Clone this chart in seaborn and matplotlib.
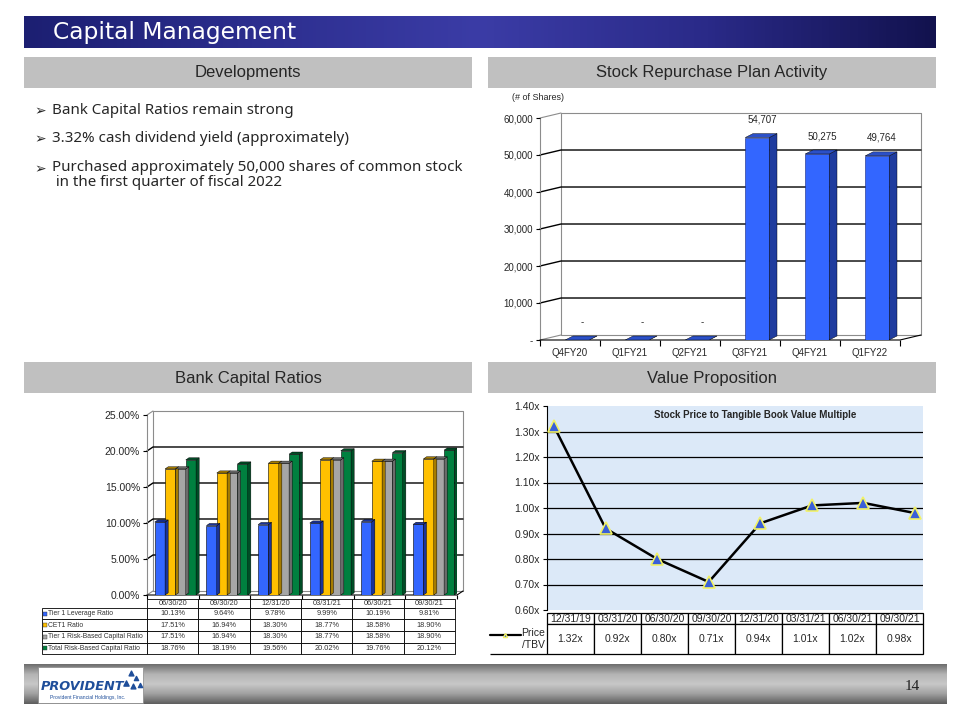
import numpy as np
import pandas as pd
import matplotlib
matplotlib.use("Agg")
import matplotlib.pyplot as plt
from matplotlib.patches import Polygon, Rectangle
from matplotlib.colors import LinearSegmentedColormap
import seaborn as sns

# ---- data ----
quarters = ["Q4FY20", "Q1FY21", "Q2FY21", "Q3FY21", "Q4FY21", "Q1FY22"]
shares = [0, 0, 0, 54707, 50275, 49764]

cap_dates = ["06/30/20", "09/30/20", "12/31/20", "03/31/21", "06/30/21", "09/30/21"]
ratio_names = ["Tier 1 Leverage Ratio", "CET1 Ratio",
               "Tier 1 Risk-Based Capital Ratio", "Total Risk-Based Capital Ratio"]
tier1_leverage = [10.13, 9.64, 9.78, 9.99, 10.19, 9.81]
cet1 = [17.51, 16.94, 18.30, 18.77, 18.58, 18.90]
tier1_risk = [17.51, 16.94, 18.30, 18.77, 18.58, 18.90]
total_risk = [18.76, 18.19, 19.56, 20.02, 19.76, 20.12]
cap_colors = ["#3366FF", "#FFC000", "#A6A6A6", "#00803F"]
cap_sides = ["#1A3399", "#A67C00", "#6B6B6B", "#004D26"]

tbv_dates = ["12/31/19", "03/31/20", "06/30/20", "09/30/20",
             "12/31/20", "03/31/21", "06/30/21", "09/30/21"]
price_tbv = [1.32, 0.92, 0.80, 0.71, 0.94, 1.01, 1.02, 0.98]

bullets = ["Bank Capital Ratios remain strong",
           "3.32% cash dividend yield (approximately)",
           "Purchased approximately 50,000 shares of common stock\n in the first quarter of fiscal 2022"]

sns.set_style("white")
plt.rcParams["font.family"] = ["Liberation Sans", "DejaVu Sans"]

W, H = 960, 720
fig = plt.figure(figsize=(9.6, 7.2), dpi=100)


def box(x0, y0, x1, y1):
    # pixel rect (top-left origin) -> figure fraction
    return [x0 / W, 1 - y1 / H, (x1 - x0) / W, (y1 - y0) / H]


def add_depth(ax, bars, d, dz, sides, tops):
    for p, sc, tc in zip(bars, sides, tops):
        x0, w, h = p.get_x(), p.get_width(), p.get_height()
        x1 = x0 + w
        ax.add_patch(Polygon([(x1, 0), (x1 + d, dz), (x1 + d, h + dz), (x1, h)],
                             closed=True, fc=sc, ec="black", lw=0.3, zorder=3))
        ax.add_patch(Polygon([(x0, h), (x0 + d, h + dz), (x1 + d, h + dz), (x1, h)],
                             closed=True, fc=tc, ec="black", lw=0.3, zorder=3))


def walls(ax, n, top, ticks, dx, dz):
    l, r = -0.5, n - 0.5
    kw = dict(clip_on=False, zorder=0.5)
    ax.plot([l + dx, r + dx, r + dx, l + dx, l + dx], [dz, dz, top + dz, top + dz, dz],
            color="#8C8C8C", lw=0.8, **kw)
    for t in ticks[1:-1]:
        ax.plot([l, l + dx, r + dx], [t, t + dz, t + dz], color="black", lw=1.0, **kw)
    ax.plot([l, l + dx], [top, top + dz], color="#8C8C8C", lw=0.8, **kw)
    ax.plot([l, l + dx], [0, dz], color="#8C8C8C", lw=0.8, **kw)
    ax.plot([l, l], [0, top], color="#8C8C8C", lw=0.8, **kw)
    ax.plot([l, r, r + dx], [0, 0, dz], color="black", lw=0.8, **kw)


# ---- slide background ----
bg = fig.add_axes([0, 0, 1, 1])
title_cmap = LinearSegmentedColormap.from_list("t", ["#1C1F72", "#2C2E8E", "#3B3CA6", "#2A2A88", "#12124E"])
bg.imshow(np.linspace(0, 1, 256)[None, :], cmap=title_cmap, aspect="auto", extent=[24, 936, 48, 16])
foot_cmap = LinearSegmentedColormap.from_list("f", ["#6E6E6E", "#B4B4B4", "#C8C8C8", "#A0A0A0", "#5E5E5E"])
bg.imshow(np.linspace(0, 1, 64)[:, None], cmap=foot_cmap, aspect="auto", extent=[24, 947, 704, 664])
bg.set_xlim(0, W)
bg.set_ylim(H, 0)
bg.axis("off")

bg.text(53, 33, "Capital Management", color="white", fontsize=16.8, va="center",
        family=["DejaVu Sans"])
for x0, y0, label in [(24, 57, "Developments"), (488, 57, "Stock Repurchase Plan Activity"),
                      (24, 362, "Bank Capital Ratios"), (488, 362, "Value Proposition")]:
    bg.add_patch(Rectangle((x0, y0), 448, 31, fc="#C0C0C0", ec="none"))
    bg.text(x0 + 224, y0 + 16, label, fontsize=12, ha="center", va="center")

for y, txt in zip([111, 139, 169], bullets):
    bg.text(34, y, "\u27a2", fontsize=10, va="center", family=["DejaVu Sans"])
    two = "\n" in txt
    bg.text(52, y - 9 if two else y, txt, fontsize=10.9, va="top" if two else "center",
            family=["Noto Sans", "DejaVu Sans"], linespacing=1.0)

# footer logo and page number
bg.add_patch(Rectangle((38, 667), 105, 36, fc="white", ec="#888888", lw=0.5))
bg.text(41, 686, "PROVIDENT", fontsize=9.3, fontweight="bold", style="italic",
        color="#1F4E9A", va="center", family=["DejaVu Sans"])
bg.text(88, 698, "Provident Financial Holdings, Inc.", fontsize=3.6, color="#1F4E9A",
        ha="center", va="center")
for tx, ty, s in [(131, 673, 12), (136, 678, 9), (126, 683, 14), (133, 686, 12), (140, 685, 9)]:
    bg.scatter(tx, ty, marker="^", s=s, color="#1F4E9A", zorder=3)
bg.text(912, 687, "14", fontsize=11, va="center", ha="center", color="#222222",
        family=["Liberation Serif", "DejaVu Serif"])

# ---- stock repurchase bars ----
ax1 = fig.add_axes(box(540, 118, 900, 340))
sns.barplot(x=quarters, y=shares, color="#3366FF", saturation=1, width=0.4,
            edgecolor="#13247A", linewidth=0.4, ax=ax1, zorder=2)
ax1.set_xlim(-0.5, 5.5)
ax1.set_ylim(0, 60000)
for s in ax1.spines.values():
    s.set_visible(False)
bars1 = list(ax1.patches)
for p in bars1:
    p.set_x(p.get_x() + 0.12)
walls(ax1, 6, 60000, list(range(0, 60001, 10000)), 0.35, 1350)
add_depth(ax1, bars1, 0.13, 1080, ["#1F3C9E"] * 6, ["#2B50C8"] * 6)
for i, v in enumerate(shares):
    ax1.text(i + 0.2, v + 3500, f"{v:,}" if v else "-", ha="center", va="bottom", fontsize=7)
ax1.set_yticks(range(0, 60001, 10000))
ax1.set_yticklabels(["-"] + [f"{t:,}" for t in range(10000, 60001, 10000)])
ax1.set_xticks(np.arange(-0.5, 6), minor=True)
ax1.tick_params(axis="y", left=True, length=3, width=0.8, color="black", labelsize=7, pad=2)
ax1.tick_params(axis="x", which="major", length=0, labelsize=7, pad=6)
ax1.tick_params(axis="x", which="minor", bottom=True, length=4, width=0.8, color="black")
ax1.set_xlabel("")
ax1.set_ylabel("")
bg.text(512, 98, "(# of Shares)", fontsize=6.5, va="center")

# ---- bank capital ratios ----
ratio_series = [tier1_leverage, cet1, tier1_risk, total_risk]
df_cap = pd.DataFrame({"date": cap_dates * 4,
                       "ratio": np.repeat(ratio_names, len(cap_dates)),
                       "value": tier1_leverage + cet1 + tier1_risk + total_risk})
ax2 = fig.add_axes(box(147, 415, 457, 595))
sns.barplot(data=df_cap, x="date", y="value", hue="ratio", hue_order=ratio_names,
            palette=cap_colors, saturation=1, width=0.8, edgecolor="black", linewidth=0.4,
            legend=False, ax=ax2, zorder=2)
ax2.set_xlim(-0.5, 5.5)
ax2.set_ylim(0, 25)
for s in ax2.spines.values():
    s.set_visible(False)
bars2 = list(ax2.patches)
for p in bars2:
    p.set_x(p.get_x() + 0.05)
walls(ax2, 6, 25, [0, 5, 10, 15, 20, 25], 0.116, 0.556)
add_depth(ax2, bars2, 0.06, 0.3, np.repeat(cap_sides, 6), np.repeat(cap_sides, 6))
ax2.set_yticks([0, 5, 10, 15, 20, 25])
ax2.set_yticklabels([f"{t:.2f}%" for t in [0, 5, 10, 15, 20, 25]])
ax2.set_xticks([])
ax2.set_xticks(np.arange(-0.5, 6), minor=True)
ax2.tick_params(axis="y", left=True, length=3, width=0.8, color="black", labelsize=7.5, pad=2)
ax2.tick_params(axis="x", which="minor", bottom=True, length=3, width=0.8, color="black")
ax2.set_xlabel("")
ax2.set_ylabel("")

cap_cells = [[""] + cap_dates] + [[n] + [f"{v:.2f}%" for v in vals]
                                  for n, vals in zip(ratio_names, ratio_series)]
tab2 = ax2.table(cellText=cap_cells, colWidths=[105] + [51.3] * 6, cellLoc="center",
                 bbox=[-0.3387, -0.328, 1.332, 0.306])
tab2.auto_set_font_size(False)
tab2.set_fontsize(5.3)
for (r, c), cell in tab2.get_celld().items():
    cell.set_linewidth(0.6)
    cell.set_height(9 if r == 0 else 11.5)
    cell.get_text().set_color("#333333")
    if r == 0 and c == 0:
        cell.visible_edges = ""
    if c == 0 and r > 0:
        cell.get_text().set_ha("left")
        cell.get_text().set_fontsize(4.9)
        cell.PAD = 0.06
row_mid = [613.75, 625.25, 636.75, 648.25]
for yc, col in zip(row_mid, cap_colors):
    ax2.scatter((45 - 147) / 310, (595 - yc) / 180, marker="s", s=7, color=col,
                edgecolor="#333333", linewidth=0.3, transform=ax2.transAxes, clip_on=False)

# ---- value proposition line ----
ax3 = fig.add_axes(box(547, 406, 923, 610))
ax3.set_facecolor("#DCE9F8")
sns.lineplot(x=np.arange(len(price_tbv)), y=price_tbv, color="black", lw=1.8, marker="^",
             markersize=9, markerfacecolor="#3A5FD8", markeredgecolor="#F2F266",
             markeredgewidth=1.2, ax=ax3, zorder=3)
ax3.set_xlim(-0.136, 7.155)
ax3.set_ylim(0.6, 1.4)
yt = [0.6, 0.7, 0.8, 0.9, 1.0, 1.1, 1.2, 1.3, 1.4]
ax3.set_yticks(yt)
ax3.set_yticklabels([f"{t:.2f}x" for t in yt])
for t in yt[1:-1]:
    ax3.axhline(t, color="black", lw=0.9, zorder=1)
ax3.set_xticks([])
for k in ["top", "right", "bottom"]:
    ax3.spines[k].set_visible(False)
ax3.spines["left"].set_color("black")
ax3.spines["left"].set_linewidth(0.8)
ax3.tick_params(axis="y", left=True, length=3, width=0.8, color="black", labelsize=7.5, pad=2)
ax3.text(3.9, 1.365, "Stock Price to Tangible Book Value Multiple", ha="center", va="center",
         fontsize=7, fontweight="bold")

tbv_cells = [[""] + tbv_dates, ["Price\n/TBV"] + [f"{v:.2f}x" for v in price_tbv]]
tab3 = ax3.table(cellText=tbv_cells, colWidths=[57] + [47] * 8, cellLoc="center",
                 bbox=[(490 - 547) / 376, (610 - 654) / 204, 433 / 376, 41 / 204])
tab3.auto_set_font_size(False)
tab3.set_fontsize(7.5)
for (r, c), cell in tab3.get_celld().items():
    cell.set_linewidth(0.9)
    cell.set_height(11 if r == 0 else 30)
    if c == 0:
        cell.visible_edges = "" if r == 0 else "B"
        cell.get_text().set_ha("right")
        cell.get_text().set_multialignment("right")
        cell.PAD = 0.04
ax3.plot([(490 - 547) / 376, (521 - 547) / 376], [(610 - 635) / 204] * 2, color="black",
         lw=1.6, transform=ax3.transAxes, clip_on=False)
ax3.plot([(505 - 547) / 376], [(610 - 635) / 204], marker="^", ms=3, color="#3A5FD8",
         mec="#F2F266", transform=ax3.transAxes, clip_on=False)

fig.savefig("out.png", dpi=100)
